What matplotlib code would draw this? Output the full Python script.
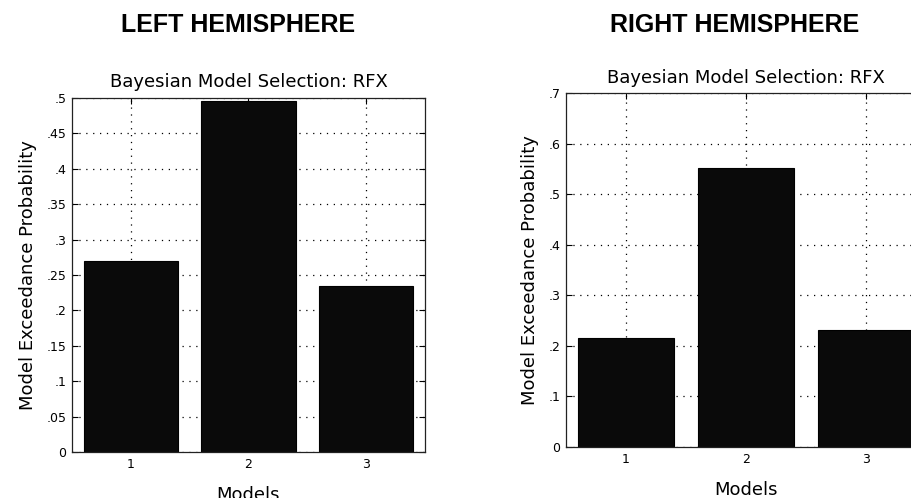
import matplotlib.pyplot as plt
import numpy as np
from matplotlib.ticker import FuncFormatter

models = [1, 2, 3]
left_exceedance = [0.270, 0.496, 0.235]
right_exceedance = [0.215, 0.552, 0.231]
left_yticks = [0, 0.05, 0.1, 0.15, 0.2, 0.25, 0.3, 0.35, 0.4, 0.45, 0.5]
right_yticks = [0, 0.1, 0.2, 0.3, 0.4, 0.5, 0.6, 0.7]
hemispheres = ["LEFT HEMISPHERE", "RIGHT HEMISPHERE"]


def matlab_fmt(v, _pos):
    # MATLAB style: ".45" rather than "0.45"
    if abs(v) < 1e-9:
        return "0"
    return f"{v:.2f}".rstrip("0").lstrip("0")


def bms_panel(ax, values, yticks):
    x = np.array(models)
    ax.bar(x, values, width=0.8, color="#0a0a0a", edgecolor="black", linewidth=0.8)
    ax.set_xlim(0.5, 3.5)
    ax.set_ylim(0, yticks[-1])
    ax.set_xticks(x)
    ax.set_yticks(yticks)
    ax.yaxis.set_major_formatter(FuncFormatter(matlab_fmt))
    ax.set_axisbelow(True)
    ax.grid(True, color="black", linestyle=(0, (1, 4.5)), linewidth=0.9)
    ax.tick_params(direction="in", length=4, width=0.8, top=True, right=True,
                   labelsize=9, pad=4)
    for sp in ax.spines.values():
        sp.set_linewidth(0.9)
        sp.set_color("#222222")
    ax.set_title("Bayesian Model Selection: RFX", fontsize=13, pad=7.5)
    ax.set_xlabel("Models", fontsize=13, labelpad=11)
    ax.set_ylabel("Model Exceedance Probability", fontsize=13, labelpad=7)


fig = plt.figure(figsize=(9.11, 4.98), dpi=100)
ax_l = fig.add_axes([0.079, 0.0924, 0.3875, 0.711])
ax_r = fig.add_axes([0.6213, 0.1024, 0.395, 0.711])
bms_panel(ax_l, left_exceedance, left_yticks)
bms_panel(ax_r, right_exceedance, right_yticks)

head_font = ["Liberation Sans", "DejaVu Sans"]
fig.text(238 / 911, 1 - 25.5 / 498, hemispheres[0], ha="center", va="center",
         fontsize=18, fontweight="bold", family=head_font)
fig.text(735 / 911, 1 - 25.5 / 498, hemispheres[1], ha="center", va="center",
         fontsize=18, fontweight="bold", family=head_font)

fig.savefig("out.png", dpi=100)
